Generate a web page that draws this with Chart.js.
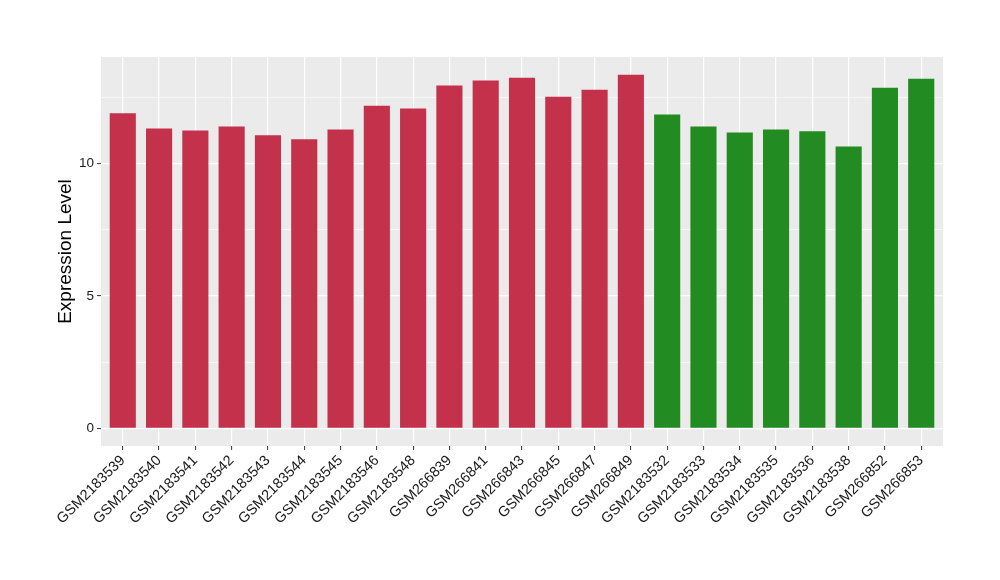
<!DOCTYPE html>
<html>
<head>
<meta charset="utf-8">
<script src="https://cdn.jsdelivr.net/npm/chart.js@4.4.1/dist/chart.umd.min.js"></script>
<style>
  html, body { margin: 0; padding: 0; background: #fff; }
  #wrap { width: 1000px; height: 580px; }
</style>
</head>
<body>
<div id="wrap"><canvas id="exprChart" width="1000" height="580"></canvas></div>
<script>
// sample names, in plot order
const samples = [
  'GSM2183539', 'GSM2183540', 'GSM2183541', 'GSM2183542', 'GSM2183543',
  'GSM2183544', 'GSM2183545', 'GSM2183546', 'GSM2183548', 'GSM266839',
  'GSM266841', 'GSM266843', 'GSM266845', 'GSM266847', 'GSM266849',
  'GSM2183532', 'GSM2183533', 'GSM2183534', 'GSM2183535', 'GSM2183536',
  'GSM2183538', 'GSM266852', 'GSM266853'
];
const expression = [
  11.90, 11.33, 11.25, 11.40, 11.07,
  10.92, 11.29, 12.19, 12.08, 12.95,
  13.14, 13.25, 12.53, 12.79, 13.36,
  11.86, 11.40, 11.18, 11.29, 11.22,
  10.65, 12.87, 13.21
];
const groups = [
  'A', 'A', 'A', 'A', 'A', 'A', 'A', 'A', 'A', 'A', 'A', 'A', 'A', 'A', 'A',
  'B', 'B', 'B', 'B', 'B', 'B', 'B', 'B'
];
const groupColors = { A: '#C3314A', B: '#228B22' };
const yTicks = [0, 2.5, 5, 7.5, 10, 12.5];

// grey panel behind the plot, ggplot style
const panelBg = {
  id: 'panelBg',
  beforeDraw(chart) {
    const { ctx, chartArea: a } = chart;
    ctx.save();
    ctx.fillStyle = '#EBEBEB';
    ctx.fillRect(a.left, a.top, a.right - a.left, a.bottom - a.top);
    ctx.restore();
  }
};

const isMajor = v => Math.abs(v % 5) < 1e-9;
const font = 'Liberation Sans, Arial, sans-serif';

new Chart(document.getElementById('exprChart'), {
  type: 'bar',
  data: {
    datasets: [{
      data: expression.map((v, i) => ({ x: i + 1, y: v })),
      backgroundColor: groups.map(g => groupColors[g]),
      barPercentage: 0.72,
      categoryPercentage: 1.0,
      borderWidth: 0
    }]
  },
  options: {
    responsive: false,
    animation: false,
    layout: { padding: { top: 57, right: 57, left: 0, bottom: 0 } },
    plugins: { legend: { display: false }, tooltip: { enabled: false } },
    scales: {
      x: {
        type: 'linear',
        offset: false,
        min: 0.4,
        max: samples.length + 0.6,
        afterBuildTicks: s => { s.ticks = samples.map((_, i) => ({ value: i + 1 })); },
        afterFit: s => { s.height = 134; },
        border: { display: false },
        grid: { offset: false, color: '#FFFFFF', lineWidth: 1.2, tickColor: '#333333', tickLength: 4, tickWidth: 1 },
        ticks: {
          autoSkip: false,
          minRotation: 45,
          maxRotation: 45,
          padding: 2,
          color: '#1a1a1a',
          font: { family: font, size: 14.5 },
          callback: v => samples[v - 1]
        }
      },
      y: {
        min: -0.668,
        max: 14.03,
        afterBuildTicks: s => { s.ticks = yTicks.map(v => ({ value: v })); },
        afterFit: s => { s.width = 101; },
        border: { display: false },
        grid: {
          color: '#FFFFFF',
          lineWidth: c => (isMajor(c.tick.value) ? 1.2 : 0.6),
          tickColor: c => (isMajor(c.tick.value) ? '#333333' : 'rgba(0,0,0,0)'),
          tickLength: 4,
          tickWidth: 1
        },
        ticks: {
          padding: 3,
          color: '#1a1a1a',
          font: { family: font, size: 13.5 },
          callback: v => (isMajor(v) ? String(v) : '')
        },
        title: {
          display: true,
          text: 'Expression Level',
          color: '#000000',
          font: { family: font, size: 19 },
          padding: { top: 54, bottom: 0 }
        }
      }
    }
  },
  plugins: [panelBg]
});
</script>
</body>
</html>
